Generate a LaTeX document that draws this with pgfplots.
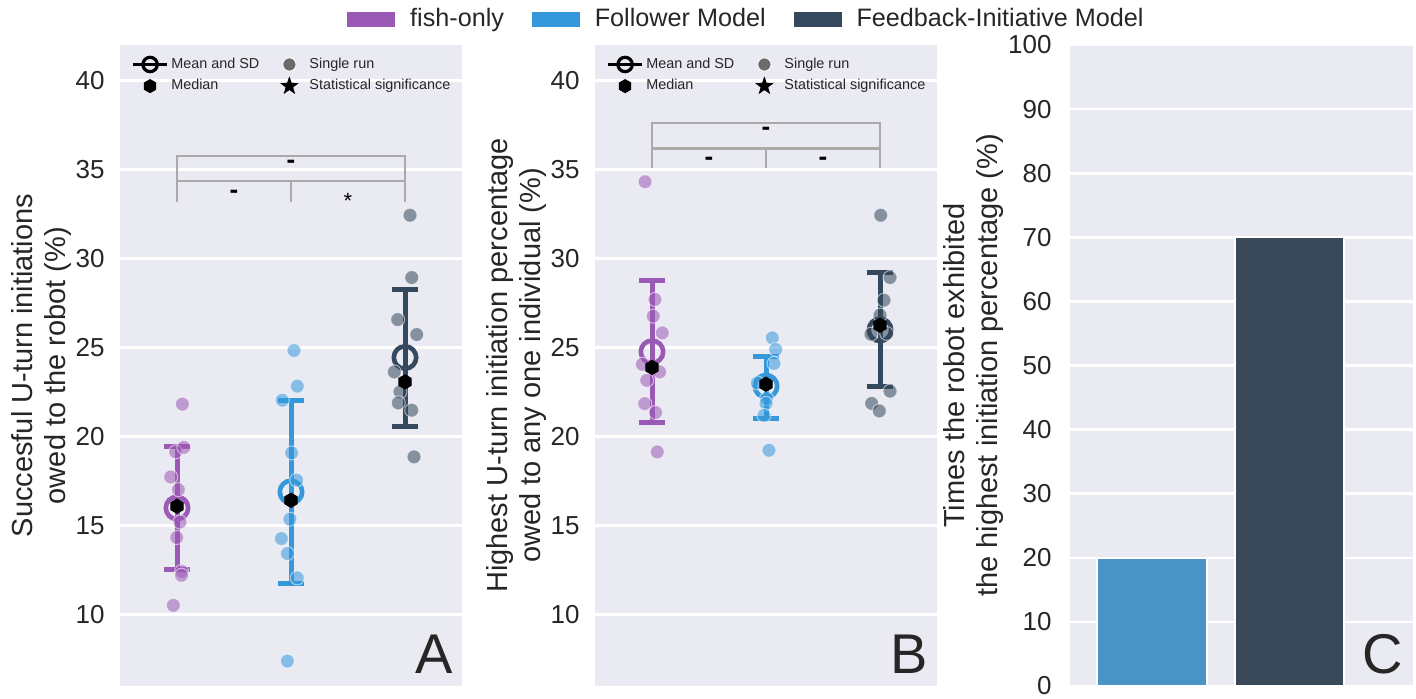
\documentclass[border=0pt]{standalone}
\usepackage{fontspec}
\setmainfont{Liberation Sans}
\usepackage{pgfplots}
\pgfplotsset{compat=1.18}
\usetikzlibrary{plotmarks}

\definecolor{bgc}{HTML}{EAEAF2}
\definecolor{cpur}{HTML}{9B59B6}
\definecolor{cblu}{HTML}{3498DB}
\definecolor{cdrk}{HTML}{34495E}
\definecolor{bblu}{HTML}{4994C6}
\definecolor{bdrk}{HTML}{39495A}
\definecolor{brk}{HTML}{AAAAAA}
\definecolor{txt}{HTML}{262626}

\pgfdeclareplotmark{hexagon*}{%
  \pgfpathmoveto{\pgfpointpolar{90}{\pgfplotmarksize}}%
  \pgfpathlineto{\pgfpointpolar{150}{\pgfplotmarksize}}%
  \pgfpathlineto{\pgfpointpolar{210}{\pgfplotmarksize}}%
  \pgfpathlineto{\pgfpointpolar{270}{\pgfplotmarksize}}%
  \pgfpathlineto{\pgfpointpolar{330}{\pgfplotmarksize}}%
  \pgfpathlineto{\pgfpointpolar{30}{\pgfplotmarksize}}%
  \pgfpathclose
  \pgfusepathqfillstroke}
\pgfdeclareplotmark{fstar}{%
  \pgfpathmoveto{\pgfpointpolar{90}{\pgfplotmarksize}}%
  \pgfpathlineto{\pgfpointpolar{126}{0.4\pgfplotmarksize}}%
  \pgfpathlineto{\pgfpointpolar{162}{\pgfplotmarksize}}%
  \pgfpathlineto{\pgfpointpolar{198}{0.4\pgfplotmarksize}}%
  \pgfpathlineto{\pgfpointpolar{234}{\pgfplotmarksize}}%
  \pgfpathlineto{\pgfpointpolar{270}{0.4\pgfplotmarksize}}%
  \pgfpathlineto{\pgfpointpolar{306}{\pgfplotmarksize}}%
  \pgfpathlineto{\pgfpointpolar{342}{0.4\pgfplotmarksize}}%
  \pgfpathlineto{\pgfpointpolar{18}{\pgfplotmarksize}}%
  \pgfpathlineto{\pgfpointpolar{54}{0.4\pgfplotmarksize}}%
  \pgfpathclose
  \pgfusepathqfillstroke}

\tikzset{
  signode/.style={font=\fontsize{13}{13}\selectfont\bfseries, text=black, inner sep=0pt},
  letter/.style={anchor=base east, inner sep=0pt, font=\fontsize{28}{28}\selectfont, text=txt},
}

\pgfplotsset{
  sns/.style={
    scale only axis,
    axis background/.style={fill=bgc},
    axis line style={draw=none},
    ymajorgrids, major grid style={white, line width=1.3pt},
    major tick length=0pt,
    xtick=\empty,
    tick label style={font=\fontsize{13}{13}\selectfont, text=txt},
    /pgf/number format/assume math mode=true,
    yticklabel style={inner sep=0pt, xshift=-7.5pt},
    ylabel style={font=\fontsize{14.5}{16.5}\selectfont, text=txt, align=center, at={(axis description cs:-0.231,0.5)}, anchor=center},
  },
  dot/.style={only marks, mark=*, mark size=3.5pt, forget plot, mark options={fill=#1, draw=white, line width=0.5pt, opacity=0.55}},
  meanm/.style={only marks, mark=o, mark size=5.6pt, forget plot, mark options={draw=#1, line width=2.3pt}},
  ebar/.style={#1, line width=2.5pt, forget plot},
  medm/.style={only marks, mark=hexagon*, mark size=3.6pt, black, forget plot},
  brkl/.style={brk, line width=1.1pt, forget plot},
  fixedimg/.style={legend image code/.code={%
      \path (0cm,0cm) (0.6cm,0cm);
      \draw[mark repeat=2,mark phase=2,##1] plot coordinates {(0cm,0cm) (0.3cm,0cm) (0.6cm,0cm)};}},
  inlegend/.style={
    legend columns=2,
    legend cell align=left,
    legend style={at={(axis description cs:0.015,0.991)}, anchor=north west, draw=none, fill=none,
      font=\fontsize{7.2}{8}\selectfont, text=txt, row sep=1.5pt,
      nodes={inner sep=1.3pt},
      /tikz/every even column/.append style={column sep=5pt}},
  },
}

\begin{document}
\begin{tikzpicture}
\useasboundingbox (0,0) rectangle (708pt,349pt);

% ---------------- Panel A ----------------
\begin{axis}[sns, inlegend, at={(60pt,6pt)}, anchor=south west,
  width=171pt, height=320.5pt,
  xmin=-0.5, xmax=2.5, ymin=6, ymax=42, ytick={10,15,...,40},
  ylabel={Succesful U-turn initiations\\owed to the robot (\%)}]
\addlegendimage{fixedimg, black, line width=1.5pt, mark=o, mark size=3.6pt, mark options={line width=1.6pt}}
\addlegendentry{Mean and SD}
\addlegendimage{fixedimg, only marks, mark=*, mark size=3.3pt, mark options={fill=black!58, draw=white, line width=0.4pt}}
\addlegendentry{Single run}
\addlegendimage{fixedimg, only marks, mark=hexagon*, mark size=3.3pt, black}
\addlegendentry{Median}
\addlegendimage{fixedimg, only marks, mark=fstar, mark size=4.3pt, black}
\addlegendentry{Statistical significance}

% brackets
\addplot[brkl] coordinates {(0,34.35) (0,35.76) (2,35.76) (2,34.35)};
\addplot[brkl] coordinates {(0,33.2) (0,34.35) (2,34.35) (2,33.2)};
\addplot[brkl] coordinates {(1,34.35) (1,33.2)};
\node[signode] at (axis cs:1,35.3) {-};
\node[signode] at (axis cs:0.5,33.6) {-};
\node[signode, font=\fontsize{11}{11}\selectfont] at (axis cs:1.5,33.25) {*};

% fish-only
\addplot[ebar=cpur] coordinates {(0,12.54) (0,19.43)};
\addplot[ebar=cpur] coordinates {(-0.118,19.43) (0.118,19.43)};
\addplot[ebar=cpur] coordinates {(-0.118,12.54) (0.118,12.54)};
\addplot[meanm=cpur] coordinates {(0,16.0)};
\addplot[dot=cpur] table {
x y
0.047 21.83
-0.012 19.15
0.060 19.40
-0.055 17.74
0.012 17.03
0.026 15.21
-0.003 14.34
0.041 12.44
0.040 12.22
-0.032 10.53
};
\addplot[medm] coordinates {(0,16.1)};

% Follower
\addplot[ebar=cblu] coordinates {(1,11.75) (1,22.05)};
\addplot[ebar=cblu] coordinates {(0.882,22.05) (1.118,22.05)};
\addplot[ebar=cblu] coordinates {(0.882,11.75) (1.118,11.75)};
\addplot[meanm=cblu] coordinates {(1,16.9)};
\addplot[dot=cblu] table {
x y
1.026 24.84
1.055 22.84
0.924 22.05
1.006 19.09
1.050 17.56
0.990 15.37
0.915 14.28
0.968 13.44
1.055 12.07
0.968 7.40
};
\addplot[medm] coordinates {(1,16.43)};

% Feedback-Initiative
\addplot[ebar=cdrk] coordinates {(2,20.6) (2,28.27)};
\addplot[ebar=cdrk] coordinates {(1.882,28.27) (2.118,28.27)};
\addplot[ebar=cdrk] coordinates {(1.882,20.6) (2.118,20.6)};
\addplot[meanm=cdrk] coordinates {(2,24.45)};
\addplot[dot=cdrk] table {
x y
2.044 32.44
2.059 28.94
1.936 26.58
2.103 25.74
1.906 23.64
1.956 22.52
1.941 21.90
2.059 21.49
2.079 18.87
};
\addplot[medm] coordinates {(2,23.08)};

\node[letter] at (axis description cs:0.974,0.019) {A};
\end{axis}

% ---------------- Panel B ----------------
\begin{axis}[sns, inlegend, at={(297.5pt,6pt)}, anchor=south west,
  width=171pt, height=320.5pt,
  xmin=-0.5, xmax=2.5, ymin=6, ymax=42, ytick={10,15,...,40},
  ylabel={Highest U-turn initiation percentage\\owed to any one individual (\%)}]
\addlegendimage{fixedimg, black, line width=1.5pt, mark=o, mark size=3.6pt, mark options={line width=1.6pt}}
\addlegendentry{Mean and SD}
\addlegendimage{fixedimg, only marks, mark=*, mark size=3.3pt, mark options={fill=black!58, draw=white, line width=0.4pt}}
\addlegendentry{Single run}
\addlegendimage{fixedimg, only marks, mark=hexagon*, mark size=3.3pt, black}
\addlegendentry{Median}
\addlegendimage{fixedimg, only marks, mark=fstar, mark size=4.3pt, black}
\addlegendentry{Statistical significance}

\addplot[brkl] coordinates {(0,36.19) (0,37.63) (2,37.63) (2,36.19)};
\addplot[brkl] coordinates {(0,35.07) (0,36.19) (2,36.19) (2,35.07)};
\addplot[brkl] coordinates {(1,36.19) (1,35.07)};
\node[signode] at (axis cs:1,37.15) {-};
\node[signode] at (axis cs:0.5,35.45) {-};
\node[signode] at (axis cs:1.5,35.45) {-};

% fish-only
\addplot[ebar=cpur] coordinates {(0,20.78) (0,28.79)};
\addplot[ebar=cpur] coordinates {(-0.118,28.79) (0.118,28.79)};
\addplot[ebar=cpur] coordinates {(-0.118,20.78) (0.118,20.78)};
\addplot[meanm=cpur] coordinates {(0,24.77)};
\addplot[dot=cpur] table {
x y
-0.061 34.32
0.026 27.71
0.011 26.77
0.090 25.83
-0.085 24.07
0.068 23.64
-0.046 23.17
-0.064 21.86
0.032 21.36
0.046 19.15
};
\addplot[medm] coordinates {(0,23.89)};

% Follower
\addplot[ebar=cblu] coordinates {(1,21.02) (1,24.52)};
\addplot[ebar=cblu] coordinates {(0.882,24.52) (1.118,24.52)};
\addplot[ebar=cblu] coordinates {(0.882,21.02) (1.118,21.02)};
\addplot[meanm=cblu] coordinates {(1,22.84)};
\addplot[dot=cblu] table {
x y
1.055 25.55
1.085 24.90
1.070 24.11
0.924 23.02
1.006 22.15
1.000 21.87
0.982 21.20
1.026 19.24
};
\addplot[medm] coordinates {(1,22.95)};

% Feedback-Initiative
\addplot[ebar=cdrk] coordinates {(2,22.8) (2,29.2)};
\addplot[ebar=cdrk] coordinates {(1.882,29.2) (2.118,29.2)};
\addplot[ebar=cdrk] coordinates {(1.882,22.8) (2.118,22.8)};
\addplot[meanm=cdrk] coordinates {(2,26.0)};
\addplot[dot=cdrk] table {
x y
2.006 32.44
2.088 28.94
2.035 27.67
2.000 26.83
1.921 25.76
2.059 25.80
2.088 22.56
1.927 21.87
1.994 21.45
};
\addplot[medm] coordinates {(2,26.26)};

\node[letter] at (axis description cs:0.974,0.019) {B};
\end{axis}

% ---------------- Panel C ----------------
\begin{axis}[sns, at={(535pt,6pt)}, anchor=south west,
  width=171.5pt, height=320.5pt,
  xmin=-0.6, xmax=1.9, ymin=0, ymax=100, ytick={0,10,...,100},
  yticklabel style={xshift=-1.5pt},
  ylabel style={at={(axis description cs:-0.281,0.5)}},
  ylabel={Times the robot exhibited\\the highest initiation percentage (\%)},
  legend columns=3,
  legend style={at={(axis description cs:-0.946,1.0406)}, anchor=center, draw=none, fill=none,
    font=\fontsize{12.6}{13}\selectfont, text=txt, nodes={inner sep=0pt},
    /tikz/every odd column/.append style={column sep=7.5pt},
    /tikz/every even column/.append style={column sep=14pt}}]
\addlegendimage{legend image code/.code={\fill[cpur] (0pt,-3.5pt) rectangle (23.5pt,3.5pt);}}
\addlegendentry{fish-only}
\addlegendimage{legend image code/.code={\fill[cblu] (0pt,-3.5pt) rectangle (23.5pt,3.5pt);}}
\addlegendentry{Follower Model}
\addlegendimage{legend image code/.code={\fill[cdrk] (0pt,-3.5pt) rectangle (23.5pt,3.5pt);}}
\addlegendentry{Feedback-Initiative Model}

\addplot[ybar, bar width=0.8, bar shift=0pt, fill=bblu, draw=white, line width=1pt, forget plot] coordinates {(0,20)};
\addplot[ybar, bar width=0.8, bar shift=0pt, fill=bdrk, draw=white, line width=1pt, forget plot] coordinates {(1,70)};

\node[letter] at (axis description cs:0.971,0.019) {C};
\end{axis}
\end{tikzpicture}
\end{document}
